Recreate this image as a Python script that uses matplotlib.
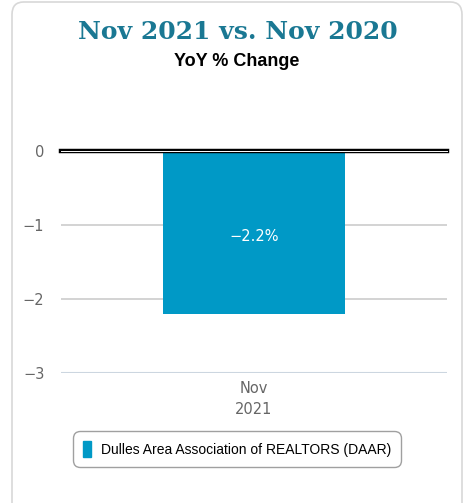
import matplotlib.pyplot as plt
from matplotlib.patches import FancyBboxPatch

plt.rcParams["font.family"] = ["DejaVu Sans"]

categories = ["Nov\n2021"]
values = [-2.2]
series_name = "Dulles Area Association of REALTORS (DAAR)"
yticks = [0, -1, -2, -3]
ytick_labels = ["0", "\u22121", "\u22122", "\u22123"]

bar_color = "#0099c6"
title_color = "#1a7893"

fig = plt.figure(figsize=(4.66, 5.03), dpi=100)

# card border
card = FancyBboxPatch((12 / 466, -0.05), 450 / 466, 1.05 - 2 / 503,
                      boxstyle="round,pad=0,rounding_size=0.025",
                      transform=fig.transFigure, facecolor="none",
                      edgecolor="#d8d8d8", linewidth=1.2)
fig.patches.append(card)

fig.text(237.5 / 466, 1 - 32 / 503, "Nov 2021 vs. Nov 2020", ha="center", va="center",
         fontsize=18, fontweight="heavy", color=title_color, family="DejaVu Serif")
fig.text(237 / 466, 1 - 62 / 503, "YoY % Change", ha="center", va="center",
         fontsize=13, fontweight="bold", color="black", family="Liberation Sans")

ax = fig.add_axes([61 / 466, 1 - 373 / 503, 386 / 466, 222 / 503])
x = list(range(len(categories)))
bars = ax.bar(x, values, width=0.474, color=bar_color, zorder=2)
for b, v in zip(bars, values):
    ax.text(b.get_x() + b.get_width() / 2, v / 2 - 0.05, f"\u2212{abs(v):.1f}%",
            ha="center", va="center", color="white", fontsize=10.5, zorder=3)

ax.set_xlim(-0.5, 0.5)
ax.set_ylim(-3, 0)
ax.set_yticks(yticks)
ax.set_yticklabels(ytick_labels)
ax.set_xticks(x)
ax.set_xticklabels(categories, linespacing=1.5)
ax.tick_params(axis="both", length=0, colors="#666666", labelsize=10.5)
ax.tick_params(axis="y", pad=12)
ax.tick_params(axis="x", pad=6)
for s in ax.spines.values():
    s.set_visible(False)

for t in [-1, -2]:
    ax.axhline(t, color="#cccccc", linewidth=1.2, zorder=1)
ax.axhline(-3, color="#ccd6e0", linewidth=1.5, zorder=1)
ax.axhline(0, color="black", linewidth=3.2, zorder=4, clip_on=False)
ax.axhline(0, color="white", linewidth=0.7, zorder=5, clip_on=False)

leg = fig.legend([plt.Rectangle((0, 0), 1, 1, color=bar_color)], [series_name],
                 loc="center", bbox_to_anchor=(237 / 466, 1 - 449 / 503),
                 frameon=True, handlelength=0.6, handleheight=1.4,
                 handletextpad=0.7, borderpad=0.7, fancybox=True,
                 prop={"family": "Liberation Sans", "size": 10})
frame = leg.get_frame()
frame.set_edgecolor("#888888")
frame.set_linewidth(1.0)
frame.set_boxstyle("round,pad=0,rounding_size=0.5")

fig.savefig("out.png", dpi=100)
